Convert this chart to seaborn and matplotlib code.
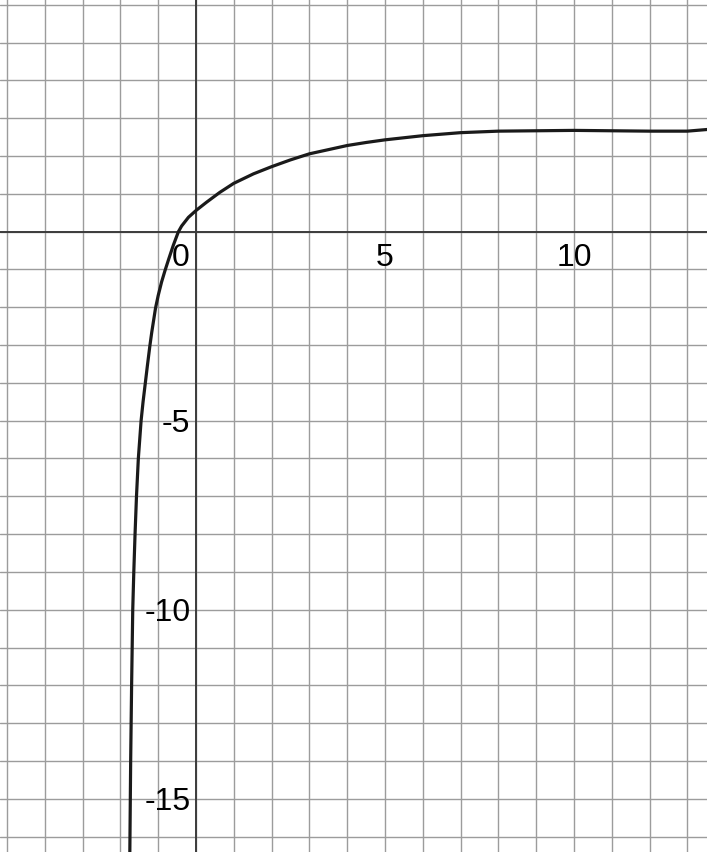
import numpy as np
import pandas as pd
import matplotlib
matplotlib.use('Agg')
import matplotlib.pyplot as plt
import seaborn as sns

# curve points
x_vals = [-1.754, -1.75, -1.728, -1.703, -1.673, -1.645, -1.612, -1.574, -1.525, -1.452,
          -1.40, -1.34, -1.285, -1.22, -1.17, -1.07, -1.0, -0.91, -0.82, -0.72,
          -0.60, -0.465, -0.38, -0.20, 0.0, 0.28, 0.63, 1.0, 1.52, 2.0,
          2.5, 3.0, 3.5, 4.0, 4.5, 5.0, 6.0, 7.0, 8.0, 9.0,
          10.0, 11.0, 12.0, 13.0, 13.6]
y_vals = [-17.0, -16.4, -14.0, -12.0, -10.0, -9.0, -8.0, -7.0, -6.0, -5.0,
          -4.5, -4.0, -3.54, -3.02, -2.66, -2.02, -1.69, -1.33, -1.03, -0.72,
          -0.36, 0.0, 0.15, 0.38, 0.56, 0.78, 1.04, 1.28, 1.53, 1.72,
          1.90, 2.06, 2.17, 2.28, 2.36, 2.43, 2.54, 2.62, 2.66, 2.67,
          2.68, 2.67, 2.66, 2.66, 2.71]

x_tick_labels = [0, 5, 10]
y_tick_labels = [-5, -10, -15]

df = pd.DataFrame({'x': x_vals, 'y': y_vals})

sns.set_style("white")
plt.rcParams['font.family'] = ['Liberation Sans', 'DejaVu Sans']

fig = plt.figure(figsize=(7.07, 8.53), dpi=100)
ax = fig.add_axes([0, 0, 1, 1])

ax.set_xlim(-5.185, 13.52)
ax.set_ylim(-16.41, 6.156)

# grid every unit
ax.set_xticks(np.arange(-5, 14, 1))
ax.set_yticks(np.arange(-16, 7, 1))
ax.grid(True, color='#9c9c9c', linewidth=1.0)
ax.tick_params(left=False, bottom=False, labelleft=False, labelbottom=False)
for s in ax.spines.values():
    s.set_visible(False)

# main axes
ax.axhline(0, color='#3c3c3c', linewidth=1.4, zorder=2)
ax.axvline(0, color='#3c3c3c', linewidth=1.4, zorder=2)

sns.lineplot(data=df, x='x', y='y', ax=ax, sort=False, color='#1a1a1a',
             linewidth=2.3, zorder=3)
ax.set_xlabel('')
ax.set_ylabel('')

# axis numbers
for v in x_tick_labels:
    xpos = -0.4 if v == 0 else v
    ax.text(xpos, -0.66, str(v), ha='center', va='center', fontsize=23,
            color='#000000', zorder=4)
for v in y_tick_labels:
    ax.text(-0.15, v - 0.05, '-' + str(abs(v)), ha='right', va='center',
            fontsize=23, color='#000000', zorder=4)

plt.savefig('out.png', dpi=100)
plt.close()
